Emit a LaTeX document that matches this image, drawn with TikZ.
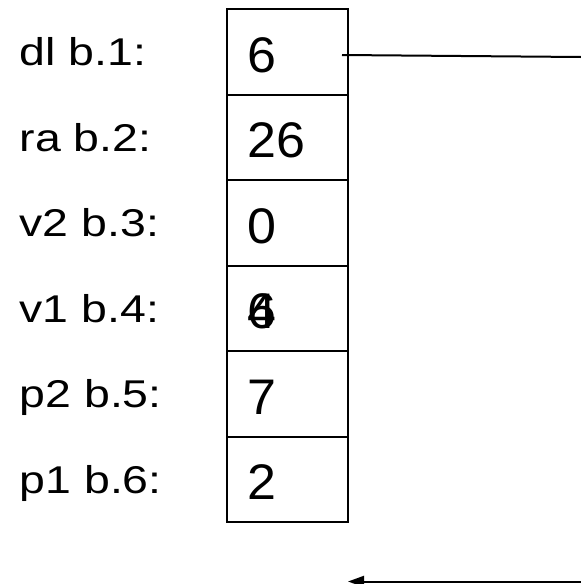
\documentclass[tikz,border=0pt]{standalone}
\usepackage{fontspec}
\setmainfont{Liberation Sans}
\usetikzlibrary{arrows.meta}
\begin{document}
\begin{tikzpicture}[x=1pt,y=-1pt,
  cell/.style={draw=black,line width=2pt,minimum width=121pt,minimum height=85.5pt,inner sep=0pt,outer sep=0pt},
  lbl/.style={anchor=base west,inner sep=0pt,font=\fontsize{38.7pt}{40pt}\selectfont},
  val/.style={anchor=base west,inner sep=0pt,font=\fontsize{50pt}{52pt}\selectfont},
  conn/.style={line width=2pt,black},
  arr/.style={conn,-{Triangle[length=16pt,width=11pt]}}]
\useasboundingbox (0,0) rectangle (581,584);

% stack cells
\node[cell] (c1) at (287.5,51.75) {};
\node[cell] (c2) at (287.5,137.25) {};
\node[cell] (c3) at (287.5,222.75) {};
\node[cell] (c4) at (287.5,308.25) {};
\node[cell] (c5) at (287.5,393.75) {};
\node[cell] (c6) at (287.5,479.25) {};

% row labels
\node[lbl] (l1) at (19.5,65.75)  {\scalebox{1.2}[1]{dl b.1:}};
\node[lbl] (l2) at (19.5,151.25) {\scalebox{1.2}[1]{ra b.2:}};
\node[lbl] (l3) at (19.5,236.75) {\scalebox{1.2}[1]{v2 b.3:}};
\node[lbl] (l4) at (19.5,322.25) {\scalebox{1.2}[1]{v1 b.4:}};
\node[lbl] (l5) at (19.5,407.75) {\scalebox{1.2}[1]{p2 b.5:}};
\node[lbl] (l6) at (19.5,493.25) {\scalebox{1.2}[1]{p1 b.6:}};

% cell contents
\node[val] (v1) at (247,72.25)  {\scalebox{1.04}[1]{6}};
\node[val] (v2) at (247,157.75) {\scalebox{1.04}[1]{26}};
\node[val] (v3) at (247,243.25) {\scalebox{1.04}[1]{0}};
\node[val] (v4a) at (247,328.75) {\scalebox{1.04}[1]{4}};
\node[val] (v4b) at (247,328.75) {\scalebox{1.04}[1]{6}};
\node[val] (v5) at (247,414.25) {\scalebox{1.04}[1]{7}};
\node[val] (v6) at (247,499.75) {\scalebox{1.04}[1]{2}};

% links
\coordinate (tr) at (581,57);
\coordinate (br) at (581,581.5);
\draw[conn] (c1.east) ++(-6,3.25) -- (tr);
\draw[arr] (br) -- (br -| c6.east);
\end{tikzpicture}
\end{document}
